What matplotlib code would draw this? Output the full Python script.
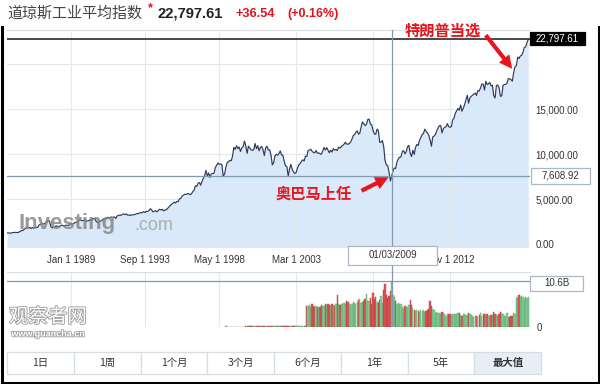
import matplotlib
matplotlib.use('Agg')
import matplotlib.pyplot as plt
import matplotlib.patheffects as pe
from matplotlib.patches import Rectangle, FancyArrowPatch
from matplotlib.lines import Line2D
import pandas as pd

# ---------------- data ----------------
dow_start = '1985-01-01'
dow_close = [
    1287, 1284, 1267, 1258, 1315, 1336, 1348, 1334, 1329, 1375, 1472, 1547,
    1571, 1710, 1819, 1784, 1877, 1893, 1775, 1898, 1768, 1878, 1914, 1896,
    2158, 2224, 2305, 2286, 2292, 2419, 2572, 2663, 2596, 1994, 1834, 1939,
    1958, 2072, 1988, 2032, 2031, 2142, 2129, 2032, 2113, 2149, 2115, 2169,
    2342, 2258, 2294, 2419, 2480, 2440, 2661, 2737, 2693, 2645, 2706, 2753,
    2591, 2627, 2707, 2657, 2877, 2881, 2905, 2614, 2453, 2442, 2560, 2634,
    2737, 2882, 2914, 2888, 3028, 2907, 3025, 3044, 3017, 3069, 2895, 3169,
    3224, 3268, 3236, 3359, 3397, 3319, 3394, 3257, 3272, 3226, 3305, 3301,
    3310, 3371, 3435, 3428, 3527, 3516, 3540, 3651, 3555, 3681, 3684, 3754,
    3978, 3832, 3636, 3682, 3758, 3625, 3765, 3913, 3843, 3908, 3739, 3834,
    3844, 4011, 4158, 4321, 4465, 4556, 4709, 4611, 4789, 4756, 5075, 5117,
    5395, 5486, 5588, 5569, 5644, 5655, 5529, 5616, 5882, 6029, 6522, 6448,
    6813, 6878, 6584, 7009, 7331, 7673, 8223, 7622, 7945, 7442, 7823, 7908,
    7907, 8546, 8800, 9063, 8900, 8952, 8883, 7539, 7843, 8592, 9117, 9181,
    9359, 9307, 9786, 10789, 10560, 10971, 10655, 10829, 10337, 10730, 10878, 11497,
    10941, 10128, 10922, 10734, 10522, 10448, 10522, 11215, 10651, 10971, 10415, 10787,
    10887, 10495, 9879, 10735, 10912, 10502, 10523, 9950, 8848, 9075, 9852, 10022,
    9920, 10106, 10404, 9946, 9925, 9243, 8737, 8664, 7592, 8397, 8896, 8342,
    8054, 7891, 7992, 8480, 8850, 8985, 9234, 9416, 9275, 9801, 9782, 10454,
    10488, 10584, 10358, 10226, 10188, 10435, 10140, 10174, 10080, 10027, 10428, 10783,
    10490, 10766, 10504, 10193, 10467, 10275, 10641, 10482, 10569, 10440, 10806, 10718,
    10865, 10993, 11109, 11367, 11168, 11150, 11186, 11381, 11679, 12081, 12222, 12463,
    12622, 12268, 12354, 13063, 13628, 13409, 13212, 13358, 13896, 13930, 13372, 13265,
    12650, 12266, 12263, 12820, 12638, 11350, 11378, 11544, 10851, 9325, 8829, 8776,
    8001, 7063, 7608.92, 8168, 8500, 8447, 9172, 9496, 9712, 9713, 10345, 10428,
    10067, 10325, 10857, 11009, 10137, 9774, 10466, 10015, 10788, 11118, 11006, 11578,
    11892, 12226, 12320, 12811, 12570, 12414, 12143, 11614, 10913, 11955, 12046, 12218,
    12633, 12952, 13212, 13214, 12393, 12880, 13009, 13091, 13437, 13096, 13026, 13104,
    13861, 14054, 14579, 14840, 15116, 14910, 15500, 14810, 15130, 15546, 16086, 16577,
    15699, 16322, 16458, 16581, 16717, 16827, 16563, 17098, 17043, 17391, 17828, 17823,
    17165, 18133, 17776, 17841, 18011, 17620, 17690, 16528, 16285, 17664, 17720, 17425,
    16466, 16517, 17685, 17774, 17787, 17930, 18432, 18401, 18308, 18142, 19124, 19763,
    19864, 20812, 20663, 20941, 21009, 21350, 21891, 21948, 22405, 22797.61,
]

# monthly volume in billions, starting Oct 1998
vol_start = '1998-10-01'
vol_billion = [
    0.3, 0, 0,
    0, 0, 0, 0, 0, 0, 0, 0, 0, 0, 0, 0,
    0.3, 0.3, 0.3, 0.3, 0.3, 0.3, 0.3, 0.3, 0.3, 0.3, 0.3, 0.3,
    0.3, 0.3, 0.3, 0.3, 0.3, 0.3, 0.3, 0.3, 0.3, 0.3, 0.3, 0.3,
    0.3, 0.3, 0.3, 0.3, 0.3, 0.3, 0.3, 0.3, 0.3, 0.3, 0.3, 0.3,
    0.3, 0.3, 0.3, 0.3, 0.3, 0.3, 0.3, 0.3, 0.3, 0.3, 4.8, 4.9,
    5.0, 4.7, 5.2, 4.9, 4.6, 4.8, 4.5, 4.3, 4.6, 5.0, 4.8, 4.9,
    5.2, 5.0, 5.4, 5.1, 4.9, 5.3, 5.0, 4.8, 5.2, 7.4, 5.3, 5.0,
    5.4, 5.3, 5.6, 5.2, 6.0, 5.8, 5.3, 5.0, 5.4, 5.7, 5.5, 5.2,
    5.8, 6.2, 6.5, 5.6, 5.8, 6.0, 6.4, 7.6, 6.0, 5.9, 6.6, 5.4,
    7.8, 6.4, 6.9, 5.8, 5.5, 6.3, 7.2, 5.6, 8.6, 9.8, 7.4, 6.6,
    7.2, 8.2, 10.6, 7.4, 6.8, 5.9, 5.2, 5.6, 5.4, 5.3, 4.6, 4.2,
    4.8, 4.6, 4.5, 5.0, 6.2, 5.0, 4.3, 4.0, 3.8, 3.9, 3.8, 3.4,
    3.9, 3.8, 4.0, 3.5, 3.8, 4.0, 4.1, 6.0, 4.8, 4.2, 3.9, 3.2,
    3.4, 3.3, 3.2, 3.1, 3.4, 3.2, 2.9, 2.5, 3.0, 2.9, 3.0, 2.8,
    3.0, 3.1, 2.9, 3.0, 3.2, 3.3, 2.7, 2.6, 2.9, 3.0, 2.7, 2.8,
    3.2, 2.9, 2.8, 2.6, 2.4, 2.5, 2.6, 2.3, 2.7, 3.2, 2.5, 2.9,
    3.0, 2.8, 2.9, 2.6, 2.5, 2.7, 2.7, 3.5, 3.1, 2.8, 2.6, 3.0,
    3.4, 3.2, 2.9, 2.5, 2.6, 3.2, 2.4, 2.2, 2.6, 2.5, 3.3, 3.0,
    6.6, 7.0, 7.4, 6.8, 7.2, 7.0, 6.4, 6.9, 6.6, 6.9,
]

xtick_dates = ['1989-01-01', '1993-09-01', '1998-05-01', '2003-03-01', '2008-01-01', '2012-11-01']
# the 2008 label is hidden behind the crosshair date box in the reference
xtick_labels = ['Jan 1 1989', 'Sep 1 1993', 'May 1 1998', 'Mar 1 2003', '', 'Nov 1 2012']
ytick_values = [0, 5000, 10000, 15000, 20000]
ytick_labels = ['0.00', '5,000.00', '10,000.00', '15,000.00', '']
last_value = 22797.61
cross_date = '2009-03-01'
cross_value = 7608.92
cross_volume = 10.6
buttons = ['1日', '1周', '1个月', '3个月', '6个月', '1年', '5年', '最大值']

# ---------------- setup ----------------
W, H = 600, 384
def fx(x): return x / W
def fy(y): return 1 - y / H

CJK = ['Noto Sans CJK SC', 'DejaVu Sans']
LAT = ['Liberation Sans', 'DejaVu Sans']
plt.rcParams['font.family'] = LAT

fig = plt.figure(figsize=(6, 3.84), dpi=100)
fig.patch.set_facecolor('white')

dates = pd.date_range(dow_start, periods=len(dow_close), freq='MS')
vdates = pd.date_range(vol_start, periods=len(vol_billion), freq='MS')
close_s = pd.Series(dow_close, index=dates)
prev = close_s.shift(1)
vcolors, vedges = [], []
for d in vdates:
    up = close_s[d] >= prev[d]
    vcolors.append('#86cf98' if up else '#e25757')
    vedges.append('#5fa872' if up else '#b83c3c')

xlim = (pd.Timestamp('1984-12-29'), pd.Timestamp('2017-11-10'))
line_c = '#7f9ab0'
grid_c = '#e4e8ec'
txt_c = '#333333'

# ---------------- main axes ----------------
ax = fig.add_axes([fx(7), fy(247), fx(530) - fx(7), (247 - 30) / H])
ax.set_xlim(*xlim)
ax.set_ylim(-278, 23833)
ax.fill_between(dates, dow_close, -1000, color='#d9e9f9', zorder=1, lw=0)
ax.plot(dates, dow_close, color='#2d3a58', lw=0.85, zorder=3)
ax.set_axisbelow(False)
ax.set_xticks(pd.to_datetime(xtick_dates))
ax.set_xticklabels(xtick_labels)
ax.set_yticks(ytick_values)
ax.set_yticklabels(ytick_labels)
ax.yaxis.tick_right()
ax.tick_params(axis='both', length=0, labelsize=7, colors=txt_c)
ax.tick_params(axis='x', pad=6)
ax.tick_params(axis='y', pad=4)
ax.grid(True, color=grid_c, lw=0.8, zorder=2)
for s in ['left', 'bottom', 'right']:
    ax.spines[s].set_visible(False)
ax.spines['top'].set_color('#d8dde2')
ax.spines['top'].set_linewidth(0.8)
ax.axhline(last_value, color='#2a2a2a', lw=1.2, zorder=4)
ax.axhline(cross_value, color=line_c, lw=0.9, zorder=4)
ax.axvline(pd.Timestamp(cross_date), ymin=-0.12, ymax=1, color=line_c, lw=0.9,
           zorder=4, clip_on=False)

# ---------------- volume axes ----------------
vax = fig.add_axes([fx(7), fy(327), fx(530) - fx(7), (327 - 272) / H])
vax.set_facecolor('none')
vax.set_xlim(*xlim)
vax.set_ylim(0, 12.67)
vax.bar(vdates, vol_billion, width=29, color=vcolors, edgecolor=vedges, lw=0.3, zorder=3)
vax.set_xticks(pd.to_datetime(xtick_dates))
vax.set_xticklabels([])
vax.set_yticks([0])
vax.set_yticklabels(['0'])
vax.yaxis.tick_right()
vax.tick_params(axis='both', length=0, labelsize=7, colors=txt_c, pad=5)
vax.grid(True, axis='x', color=grid_c, lw=0.8, zorder=1)
for s in ['left', 'bottom', 'right']:
    vax.spines[s].set_visible(False)
vax.spines['top'].set_color('#d8dde2')
vax.spines['top'].set_linewidth(0.8)
vax.axhline(cross_volume, color=line_c, lw=0.9, zorder=4)
vax.axvline(pd.Timestamp(cross_date), color=line_c, lw=0.9, zorder=4)

# ---------------- boxes ----------------
def box(x0, y0, x1, y1, face, edge, text, tcolor, size=7, weight='normal'):
    r = Rectangle((fx(x0), fy(y1)), fx(x1) - fx(x0), (y1 - y0) / H,
                  transform=fig.transFigure, facecolor=face, edgecolor=edge,
                  lw=0.9, zorder=10)
    fig.patches.append(r)
    fig.text(fx((x0 + x1) / 2), fy((y0 + y1) / 2), text, color=tcolor,
             fontsize=size, ha='center', va='center', zorder=11,
             family=LAT, weight=weight)

box(530, 32, 585, 45, '#000000', '#000000', f'{last_value:,.2f}', 'white')
box(531, 168, 590, 184, 'white', '#a8b8c8', f'{cross_value:,.2f}', txt_c)
box(348, 246, 437, 265, 'white', '#a8b8c8', '01/03/2009', txt_c)
box(530, 276, 583, 291, 'white', '#a8b8c8', f'{cross_volume}B', txt_c)

# ---------------- title ----------------
fig.text(fx(7), fy(14), '道琼斯工业平均指数', fontsize=10.8, color='#444444',
         va='center', family=CJK)
fig.text(fx(148), fy(8), '*', fontsize=9, color='#e0141b', va='center',
         weight='bold', family=LAT)
fig.text(fx(158), fy(14), f'{last_value:,.2f}', fontsize=10.6, color='#222222',
         va='center', weight='bold', family=LAT)
fig.text(fx(236), fy(14), '+36.54', fontsize=9.2, color='#e0141b',
         va='center', weight='bold', family=LAT)
fig.text(fx(287), fy(14), '(+0.16%)', fontsize=9.0, color='#e0141b',
         va='center', weight='bold', family=LAT)

# ---------------- annotations ----------------
red = '#e8141c'
fig.text(fx(443), fy(31), '特朗普当选', fontsize=11, color=red, weight='bold',
         ha='center', va='center', family=CJK, zorder=12)
fig.text(fx(314), fy(194), '奥巴马上任', fontsize=11, color=red, weight='bold',
         ha='center', va='center', family=CJK, zorder=12)
for (x0, y0), (x1, y1) in [((484, 33), (514, 71)), ((359, 192), (391, 176))]:
    arr = FancyArrowPatch((fx(x0), fy(y0)), (fx(x1), fy(y1)),
                          transform=fig.transFigure,
                          arrowstyle='simple,head_width=0.95,head_length=0.95,tail_width=0.3',
                          mutation_scale=10, color=red, lw=0, zorder=12)
    fig.patches.append(arr)

# ---------------- watermarks ----------------
fig.text(fx(19), fy(224), 'Investing', fontsize=16, color='#888888', alpha=0.85,
         weight='bold', va='center', family=LAT, zorder=5)
fig.text(fx(134), fy(226), '.com', fontsize=13, color='#a5a5a5', alpha=0.85,
         va='center', family=LAT, zorder=5)
wm = [pe.withStroke(linewidth=1.3, foreground='#a0a0a0')]
fig.text(fx(48), fy(317), '观察者网', fontsize=14, color='white', ha='center',
         va='center', family=CJK, path_effects=wm, zorder=6)
fig.text(fx(48), fy(334), 'www.guancha.cn', fontsize=6.5, color='white',
         ha='center', va='center', weight='bold', family=LAT,
         path_effects=[pe.withStroke(linewidth=1.2, foreground='#a0a0a0')], zorder=6)

# ---------------- buttons ----------------
bax = fig.add_axes([fx(7), fy(374), fx(541) - fx(7), (374 - 352) / H])
bax.set_xlim(0, len(buttons))
bax.set_ylim(0, 1)
bax.axis('off')
for i, lab in enumerate(buttons):
    last = i == len(buttons) - 1
    bax.add_patch(Rectangle((i, 0), 1, 1, facecolor='#e7eef6' if last else 'white',
                            edgecolor='#d6dde5', lw=0.9, clip_on=False))
    bax.text(i + 0.5, 0.5, lab, ha='center', va='center', fontsize=7.5,
             color='#333333', family=CJK, weight='bold' if last else 'normal')

# ---------------- outer frame ----------------
for (xa, ya), (xb, yb) in [((1.5, 27), (1.5, 383)), ((598.5, 27), (598.5, 383)),
                           ((1.5, 382.5), (598.5, 382.5))]:
    fig.add_artist(Line2D([fx(xa), fx(xb)], [fy(ya), fy(yb)], color='black',
                          lw=2.2, transform=fig.transFigure))

fig.savefig('out.png', dpi=100)
